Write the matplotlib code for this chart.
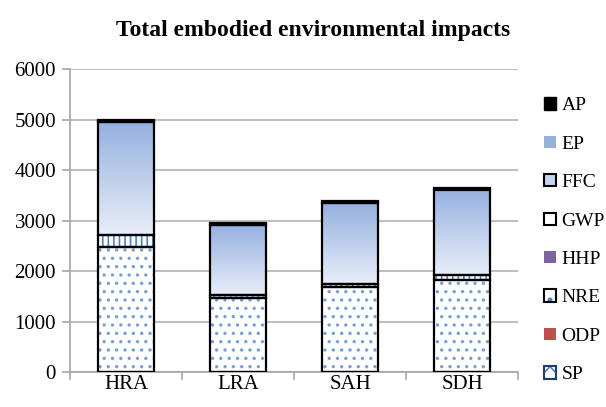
import numpy as np
import matplotlib
matplotlib.use('Agg')
import matplotlib.pyplot as plt
from matplotlib.colors import LinearSegmentedColormap
from matplotlib.patches import Patch
from matplotlib.legend_handler import HandlerTuple

plt.rcParams['font.family'] = ['Liberation Serif', 'DejaVu Serif']
plt.rcParams['hatch.linewidth'] = 1.2

categories = ['HRA', 'LRA', 'SAH', 'SDH']
# stacked bottom -> top
SP = [8, 5, 6, 6]
ODP = [1, 1, 1, 1]
NRE = [2470, 1455, 1680, 1810]
HHP = [3, 2, 2, 2]
GWP = [240, 60, 60, 95]
FFC = [2230, 1390, 1600, 1700]
EP = [5, 3, 3, 3]
AP = [30, 28, 30, 35]
yticks = [0, 1000, 2000, 3000, 4000, 5000, 6000]

fig = plt.figure(figsize=(6.06, 4.07), dpi=100)
ax = fig.add_axes([0.1155, 0.086, 0.7395, 0.744])

x = np.arange(len(categories))
w = 0.5
bottom = np.zeros(len(categories))
edge = dict(edgecolor='black', linewidth=1.6)

def hatched(vals, hatch, hcolor, face='white'):
    global bottom
    ax.bar(x, vals, w, bottom=bottom, color=face, hatch=hatch,
           edgecolor=hcolor, linewidth=0, zorder=2)
    ax.bar(x, vals, w, bottom=bottom, fill=False, zorder=3, **edge)
    bottom = bottom + np.array(vals)

hatched(SP, 'x', '#4f81bd')
ax.bar(x, ODP, w, bottom=bottom, color='#c0504d', zorder=2)
bottom = bottom + np.array(ODP)
hatched(NRE, '..', '#7a9fd2')
ax.bar(x, HHP, w, bottom=bottom, color='#8064a2', zorder=2)
bottom = bottom + np.array(HHP)
hatched(GWP, '|||', '#4f81bd')

# FFC with vertical gradient
cmap = LinearSegmentedColormap.from_list('ffc', ['#e9eef8', '#95b1e0'])
grad = np.linspace(0, 1, 256).reshape(-1, 1)
bars = ax.bar(x, FFC, w, bottom=bottom, color='none', zorder=3, **edge)
for b in bars:
    im = ax.imshow(grad, extent=[b.get_x(), b.get_x() + b.get_width(),
                                 b.get_y(), b.get_y() + b.get_height()],
                   origin='lower', aspect='auto', cmap=cmap, zorder=2)
    im.set_clip_path(b)
bottom = bottom + np.array(FFC)

ax.bar(x, EP, w, bottom=bottom, color='#95b3d7', zorder=2)
bottom = bottom + np.array(EP)
ax.bar(x, AP, w, bottom=bottom, color='black', zorder=3, **edge)

ax.set_xlim(-0.5, len(categories) - 0.5)
ax.set_ylim(0, 6000)
ax.set_yticks(yticks)
ax.set_xticks(x)
ax.set_xticklabels(categories)
ax.set_xticks(np.arange(len(categories) + 1) - 0.5, minor=True)
ax.tick_params(axis='x', which='major', length=0, labelsize=15, pad=2)
ax.tick_params(axis='x', which='minor', length=6, color='#a6a6a6', width=1.2)
ax.tick_params(axis='y', length=6, color='#a6a6a6', width=1.2, labelsize=15, pad=4)
ax.grid(axis='y', color='#bfbfbf', linewidth=1.5, zorder=0)
ax.set_axisbelow(True)
for s in ['top', 'right']:
    ax.spines[s].set_visible(False)
for s in ['left', 'bottom']:
    ax.spines[s].set_color('#a6a6a6')
    ax.spines[s].set_linewidth(1.2)

fig.text(0.516, 0.926, 'Total embodied environmental impacts',
         ha='center', va='center', fontsize=17, fontweight='bold')

box = dict(fill=False, edgecolor='black', linewidth=1.5)
handles = [
    Patch(facecolor='black', edgecolor='black'),
    Patch(facecolor='#95b3d7', edgecolor='none'),
    Patch(facecolor='#c6d5ef', edgecolor='black', linewidth=1.5),
    (Patch(facecolor='white', edgecolor='#4f81bd', hatch='|', linewidth=0), Patch(**box)),
    Patch(facecolor='#8064a2', edgecolor='none'),
    (Patch(facecolor='white', edgecolor='#4f81bd', hatch='.', linewidth=0), Patch(**box)),
    Patch(facecolor='#c0504d', edgecolor='none'),
    (Patch(facecolor='white', edgecolor='#4f81bd', hatch='xx', linewidth=0),
     Patch(fill=False, edgecolor='#1f3f6f', linewidth=1.5)),
]
labels = ['AP', 'EP', 'FFC', 'GWP', 'HHP', 'NRE', 'ODP', 'SP']
fig.legend(handles, labels, loc='upper left', bbox_to_anchor=(0.885, 0.78),
           frameon=False, fontsize=14, handlelength=0.6, handleheight=0.6,
           handletextpad=0.3, labelspacing=1.1, borderaxespad=0,
           handler_map={tuple: HandlerTuple(ndivide=1, pad=0)})

fig.savefig('out.png', dpi=100)
